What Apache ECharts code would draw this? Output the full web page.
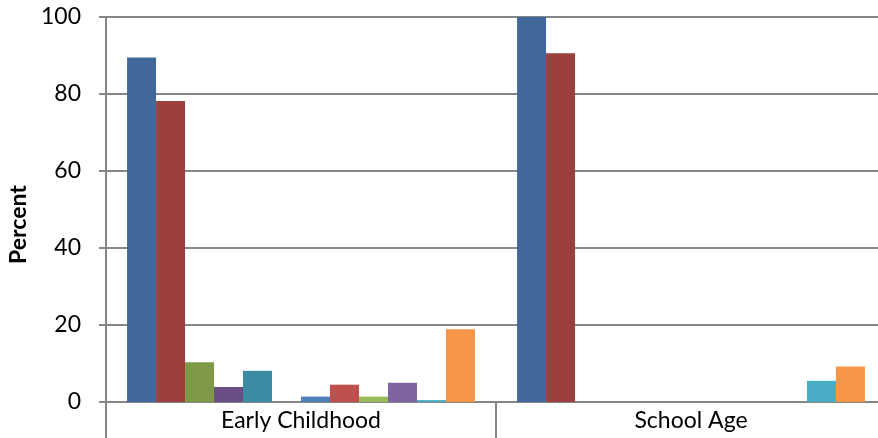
<!DOCTYPE html>
<html><head><meta charset="utf-8">
<script src="https://cdn.jsdelivr.net/npm/echarts@6/dist/echarts.min.js"></script>
<style>html,body{margin:0;padding:0;background:#fff}#c{width:878px;height:438px}</style>
</head><body><div id="c"></div>
<script>
var categories = ['Early Childhood', 'School Age'];
var seriesNames = ['Series 1','Series 2','Series 3','Series 4','Series 5','Series 6','Series 7','Series 8','Series 9','Series 10','Series 11','Series 12'];
var s1 = [89.5, 100];
var s2 = [78.2, 90.6];
var s3 = [10.3, 0];
var s4 = [3.9, 0];
var s5 = [8.1, 0];
var s6 = [0, 0];
var s7 = [1.4, 0];
var s8 = [4.5, 0];
var s9 = [1.4, 0];
var s10 = [5.0, 0];
var s11 = [0.5, 5.5];
var s12 = [18.9, 9.2];
var yTicks = [0, 20, 40, 60, 80, 100];
var colors = ['#41689A','#9C403D','#7E9A48','#684E85','#3B8BA2','#D7772F','#4F81BD','#C0504D','#9BBB59','#8064A2','#4BACC6','#F79646'];
var allData = [s1,s2,s3,s4,s5,s6,s7,s8,s9,s10,s11,s12];
var font = 'Lato, "Open Sans", sans-serif';
var chart = echarts.init(document.getElementById('c'));
chart.setOption({
  animation: false,
  color: colors,
  grid: {left: 106, top: 17, bottom: 36, right: -8, containLabel: false, outerBoundsMode: 'none'},
  xAxis: {
    type: 'category', data: categories,
    axisLine: {lineStyle: {color: '#868686', width: 2}},
    axisTick: {show: true, length: 36, lineStyle: {color: '#868686', width: 2}},
    axisLabel: {color: '#000', fontFamily: font, fontSize: 23, margin: 7}
  },
  yAxis: {
    type: 'value', min: 0, max: 100, interval: 20,
    name: 'Percent', nameLocation: 'middle', nameGap: 76,
    nameTextStyle: {color: '#000', fontFamily: font, fontSize: 23, fontWeight: 'bold', padding: [0, 30, 0, 0]},
    axisLine: {show: true, lineStyle: {color: '#868686', width: 2}},
    axisTick: {show: true, length: 7, lineStyle: {color: '#868686', width: 2}},
    axisLabel: {color: '#000', fontFamily: font, fontSize: 23, margin: 25,
      formatter: function(v){ return yTicks.indexOf(v) >= 0 ? String(v) : ''; }},
    splitLine: {show: true, lineStyle: {color: '#868686', width: 2}}
  },
  series: allData.map(function(d, i){
    return {name: seriesNames[i], type: 'bar', data: d, barGap: '0%', barCategoryGap: '10.8%',
      itemStyle: {color: colors[i]}};
  })
});
</script></body></html>
